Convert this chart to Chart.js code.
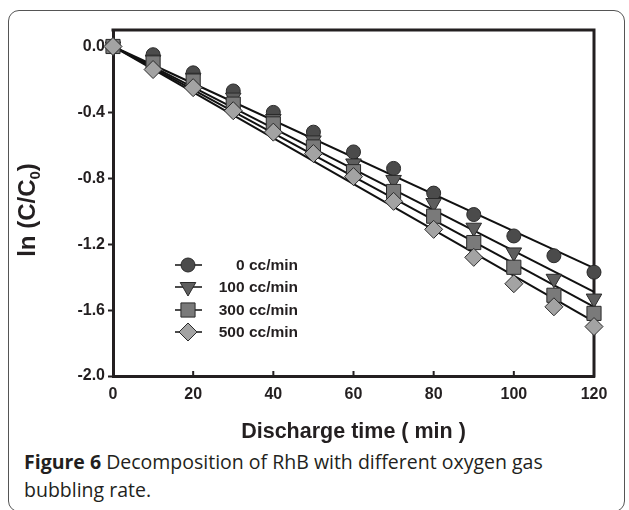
<!DOCTYPE html>
<html>
<head>
<meta charset="utf-8">
<script src="https://cdn.jsdelivr.net/npm/chart.js@4/dist/chart.umd.min.js"></script>
<style>
  html, body { margin: 0; padding: 0; background: #fff; }
  body { width: 629px; height: 510px; position: relative; overflow: hidden; }
  #frame { position: absolute; left: 8px; top: 10px; width: 617px; height: 502px;
           border: 1.5px solid #555; border-radius: 11px; box-sizing: border-box; }
  #wrap { position: absolute; left: 0; top: 0; width: 629px; height: 445px; }
  #caption { position: absolute; left: 24px; top: 448px; width: 600px;
             font-family: "Open Sans", sans-serif; font-size: 19.5px; line-height: 28px; color: #231f20; }
  #caption b { font-weight: bold; }
</style>
</head>
<body>
<div id="frame"></div>
<div id="wrap"><canvas id="chart"></canvas></div>
<div id="caption"><b>Figure 6</b> Decomposition of RhB with different oxygen gas<br>bubbling rate.</div>
<script>
// données
const times = [0, 10, 20, 30, 40, 50, 60, 70, 80, 90, 100, 110, 120];
const rate0   = [0, -0.05, -0.16, -0.27, -0.40, -0.52, -0.64, -0.74, -0.89, -1.02, -1.15, -1.27, -1.37];
const rate100 = [0, -0.08, -0.19, -0.31, -0.44, -0.57, -0.71, -0.81, -0.95, -1.10, -1.25, -1.41, -1.53];
const rate300 = [0, -0.10, -0.21, -0.35, -0.47, -0.61, -0.76, -0.88, -1.03, -1.19, -1.34, -1.51, -1.62];
const rate500 = [0, -0.14, -0.25, -0.39, -0.52, -0.65, -0.79, -0.94, -1.11, -1.28, -1.44, -1.58, -1.70];
// droites de régression : valeur à t = 0 et à t = 120
const fitStart = [0, 0, 0, 0];
const fitEnd   = [-1.345, -1.49, -1.58, -1.67];
const seriesLabels = ['0 cc/min', '100 cc/min', '300 cc/min', '500 cc/min'];
const xTicks = [0, 20, 40, 60, 80, 100, 120];
const yTicks = [0.0, -0.4, -0.8, -1.2, -1.6, -2.0];

const ink = '#231f20';
const fontFam = '"Liberation Sans", Arial, sans-serif';
const styles = [
  { pointStyle: 'circle',   radius: 7,  rotation: 0,   fill: '#4b4b4b' },
  { pointStyle: 'triangle', radius: 9,  rotation: 180, fill: '#5e5e5e' },
  { pointStyle: 'rect',     radius: 10, rotation: 0,   fill: '#7a7a7a' },
  { pointStyle: 'rectRot',  radius: 9,  rotation: 0,   fill: '#a3a3a3' }
];
const allSeries = [rate0, rate100, rate300, rate500];

var datasets = [];
fitEnd.forEach(function(end, i) {
  datasets.push({
    label: 'fit ' + seriesLabels[i],
    data: [{ x: times[0], y: fitStart[i] }, { x: times[times.length - 1], y: end }],
    showLine: true, borderColor: '#111', borderWidth: 2, pointRadius: 0,
    clip: false, order: 10
  });
});
allSeries.forEach(function(vals, i) {
  datasets.push({
    label: seriesLabels[i],
    data: vals.map((v, k) => ({ x: times[k], y: v })),
    showLine: false,
    pointStyle: styles[i].pointStyle,
    pointRadius: styles[i].radius,
    pointRotation: styles[i].rotation,
    pointBackgroundColor: styles[i].fill,
    pointBorderColor: '#2a2a2a',
    pointBorderWidth: 1,
    clip: false,
    order: 4 - i
  });
});

const decor = {
  id: 'decor',
  beforeDatasetsDraw(chart) {
    const ctx = chart.ctx, a = chart.chartArea;
    ctx.save();
    ctx.strokeStyle = ink; ctx.lineWidth = 3;
    ctx.beginPath();
    ctx.moveTo(a.left - 1.5, a.top); ctx.lineTo(a.right, a.top); ctx.lineTo(a.right, a.bottom + 1.5);
    ctx.stroke();
    // graduations internes sur l'axe des x
    const xs = chart.scales.x;
    ctx.lineWidth = 2;
    xTicks.slice(1, -1).forEach(function(t) {
      const px = xs.getPixelForValue(t);
      ctx.beginPath(); ctx.moveTo(px, a.bottom); ctx.lineTo(px, a.bottom - 5); ctx.stroke();
    });
    ctx.restore();
  },
  afterDraw(chart) {
    const ctx = chart.ctx, a = chart.chartArea;
    ctx.save();
    // titre de l'axe x
    ctx.fillStyle = ink;
    ctx.font = 'bold 21.5px ' + fontFam;
    ctx.textAlign = 'center'; ctx.textBaseline = 'alphabetic';
    ctx.fillText('Discharge time ( min )', (a.left + a.right) / 2, 438);
    // titre de l'axe y avec indice
    ctx.translate(35, 210);
    ctx.rotate(-Math.PI / 2);
    const big = 'bold 24px ' + fontFam;
    const small = 'bold 15px ' + fontFam;
    ctx.font = big; const w1 = ctx.measureText('ln (C/C').width, w3 = ctx.measureText(')').width;
    ctx.font = small; const w2 = ctx.measureText('0').width;
    let x0 = -(w1 + w2 + w3) / 2;
    ctx.textAlign = 'left';
    ctx.font = big; ctx.fillText('ln (C/C', x0, 0);
    ctx.font = small; ctx.fillText('0', x0 + w1, 5);
    ctx.font = big; ctx.fillText(')', x0 + w1 + w2, 0);
    ctx.restore();

    // légende
    ctx.save();
    const rows = [265, 287, 310, 332];
    styles.forEach(function(s, i) {
      const y = rows[i];
      ctx.strokeStyle = '#111'; ctx.lineWidth = 1.5;
      ctx.beginPath(); ctx.moveTo(175, y); ctx.lineTo(202, y); ctx.stroke();
      ctx.fillStyle = s.fill; ctx.strokeStyle = '#2a2a2a'; ctx.lineWidth = 1;
      Chart.helpers.drawPoint(ctx, { pointStyle: s.pointStyle, radius: s.radius, rotation: s.rotation, borderWidth: 1 }, 188, y);
      ctx.fillStyle = ink;
      ctx.font = 'bold 15.5px ' + fontFam;
      ctx.textAlign = 'right'; ctx.textBaseline = 'middle';
      ctx.fillText(seriesLabels[i], 298, y + 1);
    });
    ctx.restore();
  }
};

const ctx_chart = document.getElementById('chart').getContext('2d');
var myChart = new Chart(ctx_chart, {
  type: 'scatter',
  data: { datasets: datasets },
  options: {
    responsive: true,
    maintainAspectRatio: false,
    animation: false,
    layout: { padding: { top: 30, right: 35, left: 0, bottom: 0 } },
    plugins: { legend: { display: false }, tooltip: { enabled: false } },
    scales: {
      x: {
        type: 'linear', min: 0, max: 120,
        afterFit: function(scale) { scale.height = 69; },
        afterBuildTicks: function(scale) { scale.ticks = xTicks.map(v => ({ value: v })); },
        grid: { display: true, drawOnChartArea: false, drawTicks: false },
        border: { display: true, width: 3, color: ink },
        ticks: { padding: 9, color: ink, font: { family: fontFam, size: 16, weight: 'bold' } }
      },
      y: {
        type: 'linear', min: -2.0, max: 0.1,
        afterFit: function(scale) { scale.width = 113; },
        afterBuildTicks: function(scale) { scale.ticks = yTicks.map(v => ({ value: v })); },
        grid: { display: true, drawOnChartArea: false, tickLength: 5, tickWidth: 2, tickColor: ink },
        border: { display: true, width: 3, color: ink },
        ticks: { padding: 3, color: ink, callback: v => v.toFixed(1),
                 font: { family: fontFam, size: 16, weight: 'bold' } }
      }
    }
  },
  plugins: [decor]
});
</script>
</body>
</html>
